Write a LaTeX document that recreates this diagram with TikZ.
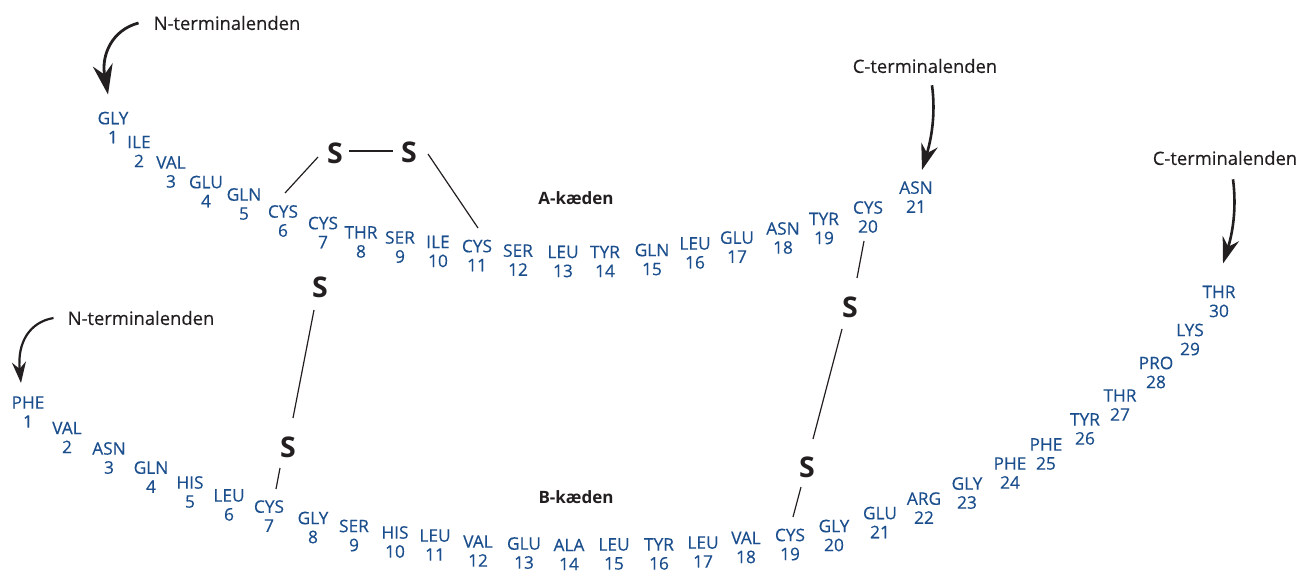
\documentclass[tikz,border=0pt]{standalone}
\usepackage{fontspec}
\setmainfont{Open Sans}
\newfontfamily\resfont{Open Sans}[FakeBold=0.35]
\usetikzlibrary{arrows.meta,calc}
\definecolor{resblue}{RGB}{27,78,140}
\definecolor{ink}{RGB}{35,31,32}
\begin{document}
\begin{tikzpicture}[x=1pt,y=-1pt,
  res/.style={text=resblue,font=\resfont\fontsize{17.3}{19}\selectfont,align=center,inner sep=0pt},
  sulf/.style={text=ink,font=\fontsize{28.5}{30}\selectfont\bfseries,inner sep=0pt},
  lab/.style={text=ink,font=\resfont\fontsize{18.4}{20}\selectfont,inner sep=0pt},
  chainlab/.style={text=ink,font=\fontsize{17}{20}\selectfont\bfseries,inner sep=0pt},
  bond/.style={draw=ink,line width=1.2pt},
  bigarrow/.style={draw=ink,line width=2.8pt,-{Stealth[length=30pt,width=20pt]}},
  midarrow/.style={draw=ink,line width=2.6pt,-{Stealth[length=26pt,width=17pt]}},
  smallarrow/.style={draw=ink,line width=2.2pt,-{Stealth[length=21pt,width=14pt]}}]
\useasboundingbox (0,0) rectangle (1298,572);
% A chain
\foreach \n/\lab/\x/\y in {1/GLY/113/127.5,2/ILE/139/151.5,3/VAL/171/172,4/GLU/206/191.5,5/GLN/244/204,
  6/CYS/283/221,7/CYS/323/232.5,8/THR/361/242,9/SER/400/247,10/ILE/438/251.5,11/CYS/477/255.5,
  12/SER/518/260,13/LEU/563/261.5,14/TYR/605/261.5,15/GLN/652/259.5,16/LEU/695/253,17/GLU/737/247,
  18/ASN/783/238,19/TYR/824/228.5,20/CYS/868/217,21/ASN/916/197}
  \node[res] (a\n) at (\x,\y) {\lab\\\n};
% B chain
\foreach \n/\lab/\x/\y in {1/PHE/28/412,2/VAL/67/437.5,3/ASN/109/458,4/GLN/151/477,5/HIS/190/492,
  6/LEU/229/505,7/CYS/269/516,8/GLY/313/527.5,9/SER/354/535.5,10/HIS/395/542,11/LEU/435/545,
  12/VAL/478/551,13/GLU/524/553,14/ALA/569/554.5,15/LEU/614/554,16/TYR/659/554,17/LEU/703/552,
  18/VAL/746/547.5,19/CYS/790/544.5,20/GLY/834/535.5,21/GLU/880/522.5,22/ARG/924/508,23/GLY/967/493,
  24/PHE/1010/473,25/PHE/1046/454,26/TYR/1085/429,27/THR/1120/405,28/PRO/1156/372.5,29/LYS/1190/339.5,
  30/THR/1219/301.5}
  \node[res] (b\n) at (\x,\y) {\lab\\\n};
% sulfur atoms
\node[sulf] (sa6) at (335,153) {S};
\node[sulf] (sa11) at (409,152) {S};
\node[sulf] (sa7) at (320,287) {S};
\node[sulf] (sb7) at (288,447) {S};
\node[sulf] (sa20) at (850,307) {S};
\node[sulf] (sb19) at (807,467) {S};
% chain labels
\node[chainlab] (alab) at (576,198) {A-kæden};
\node[chainlab] (blab) at (576,497) {B-kæden};
% terminal labels
\node[lab] (nta) at (227,23) {N-terminalenden};
\node[lab] (ntb) at (141,318) {N-terminalenden};
\node[lab] (cta) at (925,66) {C-terminalenden};
\node[lab] (ctb) at (1225,158) {C-terminalenden};
% disulfide bonds
\draw[bond] ($(sa6)+(14,-2)$) -- ($(sa11)+(-16,-1)$);
\draw[bond] ($(sa6)+(-17,4)$) -- ($(a6)+(2,-28)$);
\draw[bond] ($(sa11)+(19,2)$) -- ($(a11)+(1,-27.5)$);
\draw[bond] ($(sa7)+(-6,23)$) -- ($(sb7)+(5,-29)$);
\draw[bond] ($(sb7)+(-8,21)$) -- ($(b7)+(7,-27)$);
\draw[bond] ($(a20)+(-4,24)$) -- ($(sa20)+(7,-29)$);
\draw[bond] ($(sa20)+(-8,22)$) -- ($(sb19)+(6,-28)$);
\draw[bond] ($(sb19)+(-6,20)$) -- ($(b19)+(3,-27.5)$);
% terminal arrows
\draw[bigarrow] (nta.west) ++(-15,0) .. controls (112,30) and (101,55) .. ($(a1)+(-5,-33)$);
\draw[smallarrow] (ntb.west) ++(-14,0) .. controls (30,322) and (17,342) .. ($(b1)+(-7,-29)$);
\draw[midarrow] ($(cta.south)+(7,12)$) .. controls (936,115) and (931,140) .. ($(a21)+(6,-27)$);
\draw[midarrow] ($(ctb.south)+(8,14)$) .. controls (1237,210) and (1232,235) .. ($(b30)+(4,-38)$);
\end{tikzpicture}
\end{document}
